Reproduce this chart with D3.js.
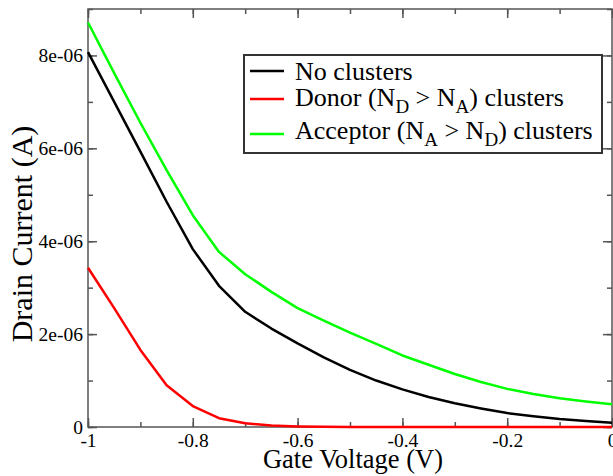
<!DOCTYPE html>
<meta charset="utf-8">
<style>
    body{ margin:0; background:white; }
    text{ font-family: "Liberation Serif", "DejaVu Serif", serif; fill:black; }
</style>
<script src="https://d3js.org/d3.v7.min.js"></script>
<div id="chart"></div>
<script>
// gate voltage sweep, 0.05 V steps
var voltage = [-1, -0.95, -0.9, -0.85, -0.8, -0.75, -0.7, -0.65, -0.6, -0.55, -0.5,
               -0.45, -0.4, -0.35, -0.3, -0.25, -0.2, -0.15, -0.1, -0.05, 0];
// drain current (A)
var noClusters = [8.07e-6, 7.0e-6, 5.93e-6, 4.85e-6, 3.83e-6, 3.04e-6, 2.48e-6, 2.12e-6, 1.80e-6, 1.50e-6, 1.23e-6,
                  1.0e-6, 0.81e-6, 0.645e-6, 0.51e-6, 0.40e-6, 0.30e-6, 0.23e-6, 0.17e-6, 0.13e-6, 0.093e-6];
var donor = [3.43e-6, 2.56e-6, 1.66e-6, 0.90e-6, 0.45e-6, 0.19e-6, 0.08e-6, 0.03e-6, 0.012e-6, 0.005e-6, 0.002e-6,
             0.001e-6, 0.0005e-6, 0.0003e-6, 0.0002e-6, 0.0001e-6, 0.0001e-6, 0, 0, 0, 0];
var acceptor = [8.71e-6, 7.62e-6, 6.55e-6, 5.53e-6, 4.56e-6, 3.77e-6, 3.29e-6, 2.91e-6, 2.56e-6, 2.29e-6, 2.03e-6,
                1.79e-6, 1.54e-6, 1.34e-6, 1.14e-6, 0.97e-6, 0.82e-6, 0.71e-6, 0.62e-6, 0.55e-6, 0.49e-6];

var xTicks = [-1, -0.8, -0.6, -0.4, -0.2, 0];
var xTickLabels = ["-1", "-0.8", "-0.6", "-0.4", "-0.2", "0"];
var yTicks = [0, 2e-6, 4e-6, 6e-6, 8e-6];
var yTickLabels = ["0", "2e-06", "4e-06", "6e-06", "8e-06"];
var xMinor = d3.range(-1, 0.001, 0.1);
var yMinor = d3.range(0, 9.01e-6, 1e-6);

var seriesNames = ["No clusters", "Donor", "Acceptor"];
var seriesColors = ["#000000", "#ff0000", "#00ff00"];

var W = 613, H = 476;
var margin = {top: 9, right: 1, bottom: 49, left: 88};
var width = W - margin.left - margin.right,
    height = H - margin.top - margin.bottom;
var serif = '"Liberation Serif", "DejaVu Serif", serif';

var svg = d3.select("#chart").append("svg")
    .attr("width", W).attr("height", H);
var g = svg.append("g").attr("transform", `translate(${margin.left},${margin.top})`);

var x = d3.scaleLinear().domain([-1, 0]).range([0, width]);
var y = d3.scaleLinear().domain([0, 9e-6]).range([height, 0]);

var axisColor = "#555";
function styleAxis(sel){
    sel.attr("font-family", serif);
    sel.select(".domain").remove();
    sel.selectAll(".tick line").attr("stroke", axisColor).attr("stroke-width", 1.5);
    sel.selectAll(".tick text").style("font-size", "19.5px").style("font-family", serif).attr("fill", "black");
}

// minor ticks (all four sides)
g.append("g").attr("transform", `translate(0,${height})`)
    .call(d3.axisBottom(x).tickValues(xMinor).tickSize(-5).tickFormat("")).call(styleAxis);
g.append("g")
    .call(d3.axisTop(x).tickValues(xMinor).tickSize(-5).tickFormat("")).call(styleAxis);
g.append("g")
    .call(d3.axisLeft(y).tickValues(yMinor).tickSize(-5).tickFormat("")).call(styleAxis);
g.append("g").attr("transform", `translate(${width},0)`)
    .call(d3.axisRight(y).tickValues(yMinor).tickSize(-5).tickFormat("")).call(styleAxis);

// major ticks
g.append("g").attr("transform", `translate(0,${height})`)
    .call(d3.axisBottom(x).tickValues(xTicks).tickSize(-9).tickPadding(6)
        .tickFormat((d, i) => xTickLabels[i])).call(styleAxis);
g.append("g")
    .call(d3.axisTop(x).tickValues(xTicks).tickSize(-9).tickFormat("")).call(styleAxis);
g.append("g")
    .call(d3.axisLeft(y).tickValues(yTicks).tickSize(-9).tickPadding(5)
        .tickFormat((d, i) => yTickLabels[i])).call(styleAxis);
g.append("g").attr("transform", `translate(${width},0)`)
    .call(d3.axisRight(y).tickValues(yTicks).tickSize(-9).tickFormat("")).call(styleAxis);

// frame
g.append("rect").attr("width", width).attr("height", height)
    .attr("fill", "none").attr("stroke", axisColor).attr("stroke-width", 1.5);

// curves
var line = d3.line().x((d, i) => x(voltage[i])).y(d => y(d));
[noClusters, donor, acceptor].forEach(function(s, k){
    g.append("path").datum(s)
        .attr("fill", "none")
        .attr("stroke", seriesColors[k])
        .attr("stroke-width", 2.5)
        .attr("stroke-linejoin", "round")
        .attr("d", line);
});

// axis titles
svg.append("text").attr("x", 353).attr("y", 468)
    .attr("text-anchor", "middle").style("font-size", "26.5px")
    .text("Gate Voltage (V)");
svg.append("text").attr("transform", "translate(32,234) rotate(-90)")
    .attr("text-anchor", "middle").style("font-size", "30px")
    .text("Drain Current (A)");

// legend
var leg = svg.append("g");
leg.append("rect").attr("x", 244).attr("y", 55).attr("width", 358).attr("height", 98)
    .attr("fill", "white").attr("stroke", "#333").attr("stroke-width", 2);
var legendRows = [
    {lineY: 71, textY: 80, parts: [["No clusters", 0]]},
    {lineY: 99, textY: 106, parts: [["Donor (N", 0], ["D", 1], [" > N", 0], ["A", 1], [") clusters", 0]]},
    {lineY: 134, textY: 139, parts: [["Acceptor (N", 0], ["A", 1], [" > N", 0], ["D", 1], [") clusters", 0]]}
];
legendRows.forEach(function(r, k){
    leg.append("line").attr("x1", 250).attr("x2", 284).attr("y1", r.lineY).attr("y2", r.lineY)
        .attr("stroke", seriesColors[k]).attr("stroke-width", 2.5);
    var t = leg.append("text").attr("x", 295).attr("y", r.textY).style("font-size", "26px");
    var down = 0;
    r.parts.forEach(function(p){
        var sh = p[1] ? 7 : 0;
        t.append("tspan").attr("dy", sh - down)
            .style("font-size", p[1] ? "19px" : "26px")
            .text(p[0]);
        down = sh;
    });
});
</script>
